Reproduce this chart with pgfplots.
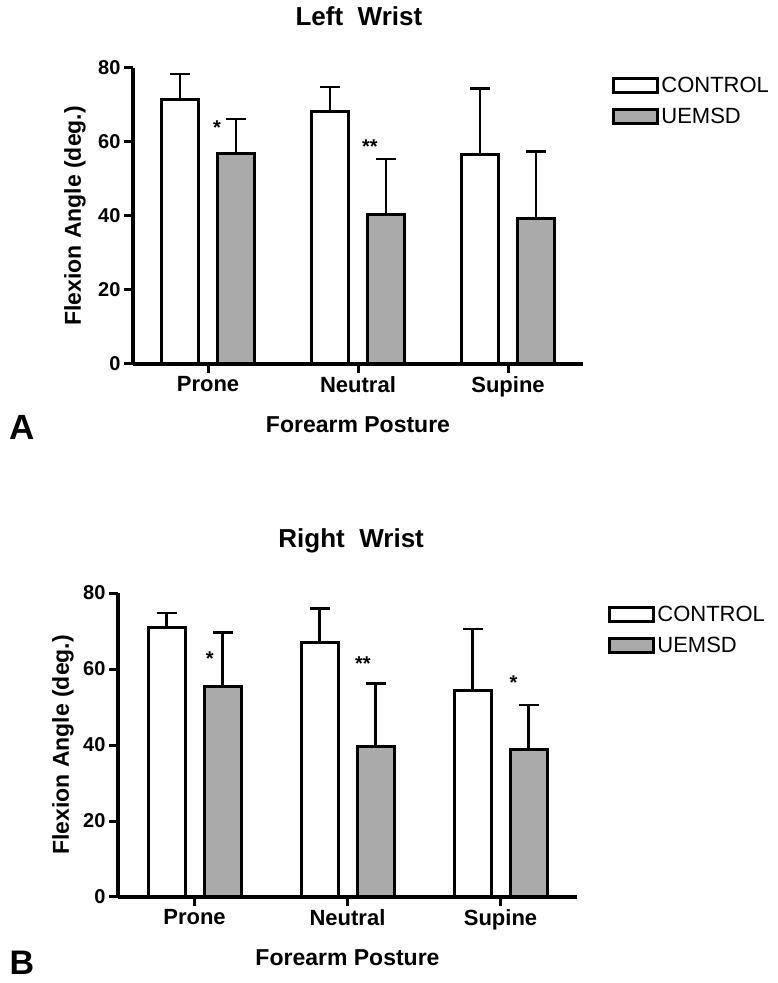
\documentclass[border=0pt]{standalone}
\usepackage{fontspec}
\setmainfont{Liberation Sans}
\usepackage{pgfplots}
\pgfplotsset{compat=1.18}
\definecolor{uem}{RGB}{170,170,170}

\pgfplotsset{
  wrist/.style={
    scale only axis,
    xmin=-0.5, xmax=2.5, ymin=0, ymax=80,
    axis x line*=bottom, axis y line*=left,
    axis line style={line width=3.5pt},
    xtick={0,1,2}, xticklabels={Prone,Neutral,Supine},
    ytick={0,20,40,60,80},
    tick align=outside, major tick length=9pt,
    every tick/.style={black, line width=3pt},
    /pgf/number format/assume math mode=true,
    xticklabel style={font=\fontsize{22}{26}\selectfont\bfseries},
    yticklabel style={font=\fontsize{20}{24}\selectfont\bfseries},
    ylabel={Flexion Angle (deg.)}, xlabel={Forearm Posture},
    label style={font=\fontsize{23}{27}\selectfont\bfseries},
    title style={font=\fontsize{26}{30}\selectfont\bfseries, anchor=center},
    ybar, bar width=37pt,
    clip=false,
    legend cell align=left,
    legend image code/.code={\draw[#1,line width=3.2pt] (0pt,-7pt) rectangle (44pt,7pt);},
    error bars/y dir=plus, error bars/y explicit,
    error bars/error bar style={line width=2.5pt, black},
    error bars/error mark options={rotate=90, mark size=10pt, line width=2.5pt, black},
  },
  ctrl/.style={draw=black, fill=white, line width=3pt, bar shift=-28pt},
  uems/.style={draw=black, fill=uem, line width=3pt, bar shift=28pt},
}

\begin{document}
\begin{tikzpicture}
\useasboundingbox (0pt,0pt) rectangle (777pt,983pt);

% ---------- Panel A ----------
\begin{axis}[wrist,
  width=450pt, height=296pt,
  at={(133pt,619pt)}, anchor=south west,
  title={Left\ \ Wrist},
  title style={at={(0.502,1.155)}},
  xlabel style={at={(axis description cs:0.5,-0.206)}, anchor=center},
  ylabel style={at={(axis description cs:-0.129,0.5)}, anchor=center},
  legend style={at={(1.0644,0.976)}, anchor=north west, draw=none, fill=none,
    inner sep=0pt, row sep=10pt, font=\fontsize{22}{26}\selectfont},
]
\addplot[ctrl] coordinates {(0,71.6) +- (0,6.8) (1,68.2) +- (0,6.7) (2,56.5) +- (0,18.0)};
\addplot[uems] coordinates {(0,57.0) +- (0,9.2) (1,40.3) +- (0,15.1) (2,39.4) +- (0,18.0)};
\legend{CONTROL,UEMSD}
\node[font=\fontsize{20}{20}\selectfont\bfseries, yshift=-4pt] at (axis cs:0.06,64.9) {*};
\node[font=\fontsize{20}{20}\selectfont\bfseries, yshift=-4pt] at (axis cs:1.08,59.8) {**};
\end{axis}

% ---------- Panel B ----------
\begin{axis}[wrist,
  width=459pt, height=304pt,
  at={(118pt,86pt)}, anchor=south west,
  title={Right\ \ Wrist},
  title style={at={(0.508,1.151)}},
  xlabel style={at={(axis description cs:0.5,-0.2)}, anchor=center},
  ylabel style={at={(axis description cs:-0.12,0.5)}, anchor=center},
  legend style={at={(1.0675,0.964)}, anchor=north west, draw=none, fill=none,
    inner sep=0pt, row sep=10pt, font=\fontsize{22}{26}\selectfont},
]
\addplot[ctrl] coordinates {(0,71.0) +- (0,3.8) (1,66.9) +- (0,9.0) (2,54.3) +- (0,16.2)};
\addplot[uems] coordinates {(0,55.3) +- (0,14.3) (1,39.5) +- (0,16.7) (2,38.8) +- (0,11.7)};
\legend{CONTROL,UEMSD}
\node[font=\fontsize{20}{20}\selectfont\bfseries, yshift=-4pt] at (axis cs:0.10,63.7) {*};
\node[font=\fontsize{20}{20}\selectfont\bfseries, yshift=-4pt] at (axis cs:1.10,62.6) {**};
\node[font=\fontsize{20}{20}\selectfont\bfseries, yshift=-4pt] at (axis cs:2.085,57.6) {*};
\end{axis}

\node[font=\fontsize{35}{40}\selectfont\bfseries, inner sep=0pt, anchor=base] at (22pt,543pt) {A};
\node[font=\fontsize{34}{40}\selectfont\bfseries, inner sep=0pt, anchor=base] at (22pt,9pt) {B};
\end{tikzpicture}
\end{document}
